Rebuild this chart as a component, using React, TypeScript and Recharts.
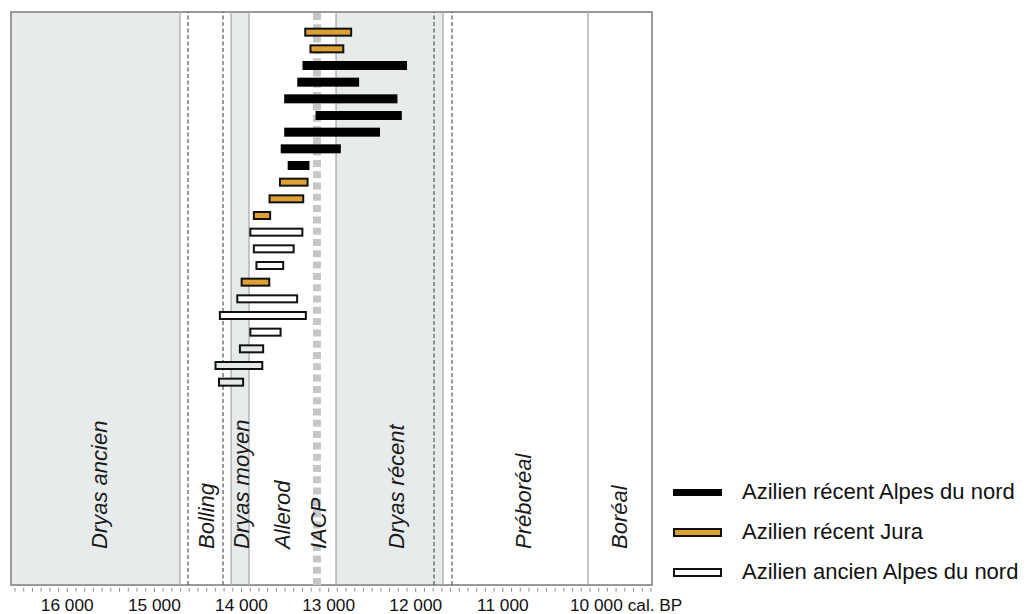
import { BarChart, Bar, XAxis, YAxis, ReferenceArea, ReferenceLine } from 'recharts'

// dates cal. BP (début / fin de chaque intervalle)
const debut = [13280, 13220, 13300, 13360, 13510, 13150, 13510, 13550, 13470, 13570, 13690, 13870, 13910, 13870, 13840, 14010, 14060, 14260, 13910, 14030, 14310, 14270]
const fin = [12730, 12820, 12100, 12650, 12210, 12160, 12410, 12860, 13220, 13230, 13280, 13660, 13290, 13390, 13510, 13670, 13350, 13250, 13540, 13740, 13750, 13970]
const groupe = ['jura', 'jura', 'alpes', 'alpes', 'alpes', 'alpes', 'alpes', 'alpes', 'alpes', 'jura', 'jura', 'jura', 'ancien', 'ancien', 'ancien', 'jura', 'ancien', 'ancien', 'ancien', 'ancien', 'ancien', 'ancien']
const fondGris = [false, false, false, false, false, false, false, false, false, false, false, false, false, false, false, false, false, false, false, true, true, true]

// chronozones
const periodes = ['Dryas ancien', 'Bolling', 'Dryas moyen', 'Allerod', 'Dryas récent', 'Préboréal', 'Boréal']
const periodeDebut = [16646, 14706, 14120, 13914, 12915, 11687, 10023]
const periodeFin = [14706, 14120, 13914, 12915, 11687, 10023, 9288]
const periodeGrise = [true, false, true, false, true, false, false]
const periodeEtiquette = [15620, 14400, 14000, 13520, 12220, 10760, 9650]

const limitesPointillees = [14614, 14212, 11790, 11584]
const iacp = 13134
const iacpEtiquette = 13110

const graduations = Array.from({ length: 74 }, (_, i) => 16600 - i * 100)

const legende = [
  { groupe: 'alpes', nom: 'Azilien récent Alpes du nord' },
  { groupe: 'jura', nom: 'Azilien récent Jura' },
  { groupe: 'ancien', nom: 'Azilien ancien Alpes du nord' },
]

const donnees = debut.map((d, i) => ({
  rang: i + 1,
  intervalle: [d, fin[i]],
  groupe: groupe[i],
  gris: fondGris[i],
}))

const police = "'Liberation Sans', Arial, sans-serif"
const ORANGE = '#dca132'
const DOMAINE_X: [number, number] = [9288, 16646]
const DOMAINE_Y: [number, number] = [-0.2, 34.18]
const MARGES = { top: 12, right: 375, bottom: 0, left: 11 }

const FormeBarre = (props: any) => {
  const { x, y, width, height, payload } = props
  const x0 = Math.min(x, x + width)
  const w = Math.abs(width)
  const y0 = Math.min(y, y + height)
  const h = Math.abs(height)
  if (payload.groupe === 'alpes') return <rect x={x0} y={y0} width={w} height={h} fill="#000" />
  const fill = payload.groupe === 'jura' ? ORANGE : payload.gris ? '#e4e8e9' : '#fff'
  return <rect x={x0 + 1} y={y0 + 1} width={w - 2} height={h - 2} fill={fill} stroke="#111" strokeWidth={2} />
}

const Graduation = (props: any) => {
  const { x, y, payload } = props
  const v = payload.value
  const majeur = v % 1000 === 0
  const texte = `${v / 1000} 000`
  return (
    <g>
      <line x1={x} x2={x} y1={y + 3} y2={y + (majeur ? 7 : 6.5)} stroke="#888" strokeWidth={1} />
      {majeur && v === 10000 && (
        <text x={x - 20} y={y + 26} textAnchor="start" fontSize={17.3} fontFamily={police} fill="#111">
          {texte} cal. BP
        </text>
      )}
      {majeur && v !== 10000 && (
        <text x={x} y={y + 26} textAnchor="middle" fontSize={17.3} fontFamily={police} fill="#111">
          {texte}
        </text>
      )}
    </g>
  )
}

const EtiquettePeriode = (props: any) => {
  const { viewBox, nom } = props
  if (!viewBox) return null
  const x = viewBox.x + 7
  const y = viewBox.y + viewBox.height - 36
  return (
    <text transform={`translate(${x},${y}) rotate(-90)`} fontSize={22} fontStyle="italic" fontFamily={police} fill="#1a1a1a">
      {nom}
    </text>
  )
}

const Echantillon = ({ g }: { g: string }) => {
  if (g === 'alpes') return <svg width={49} height={9}><rect x={0} y={1} width={49} height={7} fill="#000" /></svg>
  const fill = g === 'jura' ? ORANGE : '#fff'
  return <svg width={49} height={9}><rect x={1} y={1} width={47} height={7} fill={fill} stroke="#111" strokeWidth={2} /></svg>
}

const calque = { position: 'absolute' as const, left: 0, top: 0 }

export default function App() {
  return (
    <div style={{ position: 'absolute', left: 0, top: 0, width: 1027, height: 614, background: '#fff' }}>
      {/* fond : chronozones, limites, IACP, axe */}
      <div style={calque}>
        <BarChart width={1027} height={614} layout="vertical" data={donnees} margin={MARGES}>
          <XAxis
            type="number"
            domain={DOMAINE_X}
            reversed
            allowDataOverflow
            ticks={graduations}
            interval={0}
            tick={<Graduation />}
            tickLine={false}
            axisLine={false}
            tickSize={0}
            tickMargin={0}
            height={29}
          />
          <YAxis type="number" dataKey="rang" domain={DOMAINE_Y} allowDataOverflow hide />

          {periodes.map((p, i) =>
            periodeGrise[i] ? (
              <ReferenceArea key={p} x1={periodeDebut[i]} x2={periodeFin[i]} fill="#e7ebec" fillOpacity={1} stroke="none" />
            ) : null
          )}
          {periodeDebut.slice(1).map((d) => (
            <ReferenceLine key={'s' + d} x={d} stroke="#aaaaaa" strokeWidth={1.3} />
          ))}
          {limitesPointillees.map((d) => (
            <ReferenceLine key={'p' + d} x={d} stroke="#555" strokeWidth={1.2} strokeDasharray="4 2.5" />
          ))}
          <ReferenceLine x={iacp} stroke="#c6c6c6" strokeWidth={8} strokeDasharray="7 4.3" />

          {periodes.map((p, i) => (
            <ReferenceLine key={'e' + p} x={periodeEtiquette[i]} stroke="none" label={<EtiquettePeriode nom={p} />} />
          ))}
          <ReferenceLine x={iacpEtiquette} stroke="none" label={<EtiquettePeriode nom="IACP" />} />

          <ReferenceArea x1={DOMAINE_X[0]} x2={DOMAINE_X[1]} fill="none" stroke="#9a9a9a" strokeWidth={2} />
        </BarChart>
      </div>

      {/* premier plan : intervalles de dates (même zone de tracé) */}
      <div style={calque}>
        <BarChart width={1027} height={614} layout="vertical" data={donnees} margin={{ ...MARGES, bottom: 29 }}>
          <XAxis type="number" domain={DOMAINE_X} reversed allowDataOverflow hide />
          <YAxis type="number" dataKey="rang" domain={DOMAINE_Y} allowDataOverflow hide />
          <Bar dataKey="intervalle" barSize={9} shape={<FormeBarre />} isAnimationActive={false} />
        </BarChart>
      </div>

      <div style={{ position: 'absolute', left: 673, top: 472, fontFamily: police, fontSize: 22, color: '#111' }}>
        {legende.map((l) => (
          <div key={l.groupe} style={{ display: 'flex', alignItems: 'center', height: 40, whiteSpace: 'nowrap' }}>
            <Echantillon g={l.groupe} />
            <span style={{ marginLeft: 20 }}>{l.nom}</span>
          </div>
        ))}
      </div>
    </div>
  )
}
